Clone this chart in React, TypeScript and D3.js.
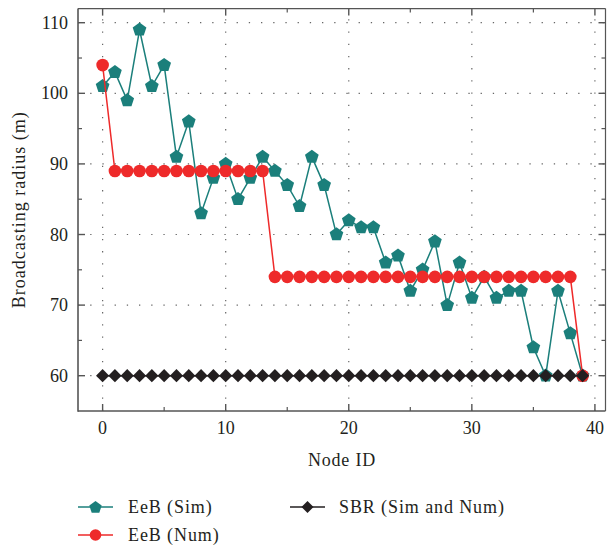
import React from "react";
import * as d3 from "d3";

const nodeIds: number[] = d3.range(0, 40);
const eebSim: number[] = [
  101, 103, 99, 109, 101, 104, 91, 96, 83, 88,
  90, 85, 88, 91, 89, 87, 84, 91, 87, 80,
  82, 81, 81, 76, 77, 72, 75, 79, 70, 76,
  71, 74, 71, 72, 72, 64, 60, 72, 66, 60,
];
const eebNum: number[] = [
  104, 89, 89, 89, 89, 89, 89, 89, 89, 89,
  89, 89, 89, 89, 74, 74, 74, 74, 74, 74,
  74, 74, 74, 74, 74, 74, 74, 74, 74, 74,
  74, 74, 74, 74, 74, 74, 74, 74, 74, 60,
];
const sbr: number[] = [
  60, 60, 60, 60, 60, 60, 60, 60, 60, 60,
  60, 60, 60, 60, 60, 60, 60, 60, 60, 60,
  60, 60, 60, 60, 60, 60, 60, 60, 60, 60,
  60, 60, 60, 60, 60, 60, 60, 60, 60, 60,
];
const xMajorTicks: number[] = [0, 10, 20, 30, 40];
const xMinorTicks: number[] = [5, 15, 25, 35];
const yMajorTicks: number[] = [60, 70, 80, 90, 100, 110];
const yMinorTicks: number[] = [65, 75, 85, 95, 105];
const legendLabels: string[] = ["EeB (Sim)", "EeB (Num)", "SBR (Sim and Num)"];
const xTitle = "Node ID";
const yTitle = "Broadcasting radius (m)";

const TEAL = "#1b7f7b";
const RED = "#ee2a2a";
const BLACK = "#231f20";
const AXIS = "#555555";
const FONT = "Liberation Serif, Times New Roman, serif";

const left = 78, right = 605.5, top = 8.6, bottom = 411;

function pentagon(cx: number, cy: number, r: number): string {
  const pts: string[] = [];
  for (let i = 0; i < 5; i++) {
    const a = -Math.PI / 2 + (i * 2 * Math.PI) / 5;
    pts.push(`${cx + r * Math.cos(a)},${cy + r * Math.sin(a)}`);
  }
  return `M${pts.join("L")}Z`;
}
function diamond(cx: number, cy: number, r: number): string {
  return `M${cx},${cy - r}L${cx + r},${cy}L${cx},${cy + r}L${cx - r},${cy}Z`;
}

export default function App() {
  const x = d3.scaleLinear().domain([-2, 40.86]).range([left, right]);
  const y = d3.scaleLinear().domain([55, 112]).range([bottom, top]);

  const line = (vals: number[]) =>
    d3.line<number>().x((_, i) => x(nodeIds[i])).y((v) => y(v))(vals) || "";

  const gridStyle = { stroke: "#666", strokeWidth: 1.2, strokeDasharray: "1.3,10.9" };
  const txt = { fontFamily: FONT, fontSize: "18px", fill: BLACK } as React.CSSProperties;

  return (
    <svg width={607} height={550} style={{ position: "absolute", left: 0, top: 0, background: "#fff" }}>
      {/* grid */}
      {xMajorTicks.map((t) => (
        <line key={"gx" + t} x1={x(t)} x2={x(t)} y1={bottom} y2={top} {...gridStyle} />
      ))}
      {yMajorTicks.map((t) => (
        <line key={"gy" + t} x1={left} x2={right} y1={y(t)} y2={y(t)} {...gridStyle} />
      ))}

      {/* frame */}
      <line x1={left} x2={right} y1={top} y2={top} stroke={AXIS} strokeWidth={1.2} />
      <line x1={right} x2={right} y1={top} y2={bottom} stroke={AXIS} strokeWidth={1.2} />
      <line x1={left} x2={left} y1={top} y2={bottom + 0.8} stroke={AXIS} strokeWidth={1.6} />
      <line x1={left} x2={right} y1={bottom} y2={bottom} stroke={AXIS} strokeWidth={1.6} />

      {/* ticks */}
      {xMajorTicks.map((t) => (
        <g key={"xt" + t}>
          <line x1={x(t)} x2={x(t)} y1={bottom} y2={bottom - 7} stroke={AXIS} strokeWidth={1.4} />
          <line x1={x(t)} x2={x(t)} y1={top} y2={top + 7} stroke={AXIS} strokeWidth={1.4} />
          <text x={x(t)} y={428} style={txt} textAnchor="middle" dominantBaseline="central">{t}</text>
        </g>
      ))}
      {xMinorTicks.map((t) => (
        <g key={"xm" + t}>
          <line x1={x(t)} x2={x(t)} y1={bottom} y2={bottom - 4} stroke={AXIS} strokeWidth={1.2} />
          <line x1={x(t)} x2={x(t)} y1={top} y2={top + 4} stroke={AXIS} strokeWidth={1.2} />
        </g>
      ))}
      {yMajorTicks.map((t) => (
        <g key={"yt" + t}>
          <line x1={left} x2={left + 7} y1={y(t)} y2={y(t)} stroke={AXIS} strokeWidth={1.4} />
          <line x1={right} x2={right - 7} y1={y(t)} y2={y(t)} stroke={AXIS} strokeWidth={1.4} />
          <text x={68} y={y(t)} style={txt} textAnchor="end" dominantBaseline="central">{t}</text>
        </g>
      ))}
      {yMinorTicks.map((t) => (
        <g key={"ym" + t}>
          <line x1={left} x2={left + 4} y1={y(t)} y2={y(t)} stroke={AXIS} strokeWidth={1.2} />
          <line x1={right} x2={right - 4} y1={y(t)} y2={y(t)} stroke={AXIS} strokeWidth={1.2} />
        </g>
      ))}

      {/* axis titles */}
      <text x={342} y={460} style={txt} textAnchor="middle" dominantBaseline="central" letterSpacing={0.8}>{xTitle}</text>
      <text transform={`translate(19,${(top + bottom) / 2}) rotate(-90)`} style={txt} textAnchor="middle" dominantBaseline="central" letterSpacing={1}>{yTitle}</text>

      {/* series */}
      <path d={line(eebSim)} fill="none" stroke={TEAL} strokeWidth={1.5} />
      {eebSim.map((v, i) => (
        <path key={"s" + i} d={pentagon(x(nodeIds[i]), y(v), 7.2)} fill={TEAL} />
      ))}
      <path d={line(eebNum)} fill="none" stroke={RED} strokeWidth={1.5} />
      {eebNum.map((v, i) => (
        <circle key={"n" + i} cx={x(nodeIds[i])} cy={y(v)} r={6.3} fill={RED} />
      ))}
      <path d={line(sbr)} fill="none" stroke={BLACK} strokeWidth={1.5} />
      {sbr.map((v, i) => (
        <path key={"b" + i} d={diamond(x(nodeIds[i]), y(v), 6.6)} fill={BLACK} />
      ))}

      {/* legend */}
      <g>
        <line x1={78} x2={113} y1={507} y2={507} stroke={TEAL} strokeWidth={1.5} />
        <path d={pentagon(95.5, 507.5, 6.5)} fill={TEAL} />
        <text x={128} y={507} style={txt} dominantBaseline="central" letterSpacing={0.9}>{legendLabels[0]}</text>

        <line x1={78} x2={113} y1={535} y2={535} stroke={RED} strokeWidth={1.5} />
        <circle cx={95.5} cy={535} r={5.8} fill={RED} />
        <text x={128} y={535} style={txt} dominantBaseline="central" letterSpacing={0.9}>{legendLabels[1]}</text>

        <line x1={290} x2={325} y1={507} y2={507} stroke={BLACK} strokeWidth={1.5} />
        <path d={diamond(307.5, 507, 6)} fill={BLACK} />
        <text x={339} y={507} style={txt} dominantBaseline="central" letterSpacing={0.9}>{legendLabels[2]}</text>
      </g>
    </svg>
  );
}
